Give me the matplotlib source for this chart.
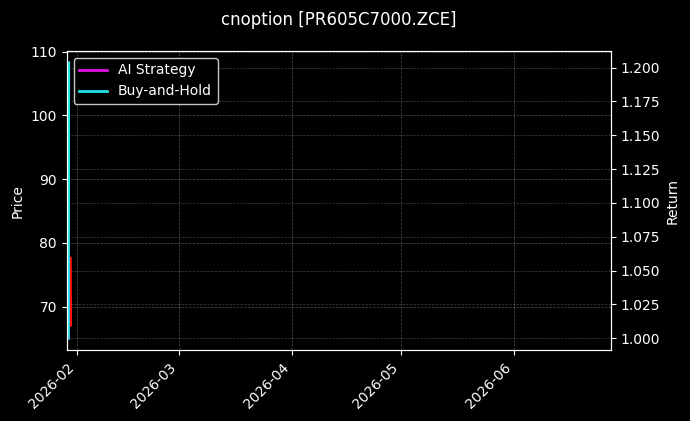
import matplotlib
matplotlib.use("Agg")
import matplotlib.pyplot as plt
import matplotlib.dates as mdates
import pandas as pd

plt.style.use("dark_background")

# data
price_times = pd.to_datetime(["2026-01-30 04:00", "2026-01-30 05:00", "2026-01-30 06:00"])
price_values = [77.6, 72.0, 67.1]

ret_times = pd.to_datetime(["2026-01-29 15:00", "2026-01-29 16:00", "2026-01-29 17:00"])
ai_strategy = [1.000, 1.100, 1.2035]
buy_and_hold = [1.000, 1.100, 1.2035]

x_start = pd.Timestamp("2026-01-29 04:00")
x_end = pd.Timestamp("2026-06-27 14:00")

fig = plt.figure(figsize=(6.9, 4.21), dpi=100)
ax = fig.add_axes([0.0967, 0.1675, 0.7888, 0.7114])
ax.set_facecolor("black")
fig.patch.set_facecolor("black")

ax.plot(price_times, price_values, color="#ff1010", linewidth=2)
ax.set_ylabel("Price")
ax.set_ylim(63.13, 110.1)
ax.grid(True, linestyle="--", linewidth=0.5, alpha=0.3)

ax2 = ax.twinx()
ax2.plot(ret_times, ai_strategy, color="#e010e0", linewidth=2, label="AI Strategy")
ax2.plot(ret_times, buy_and_hold, color="#20e6e6", linewidth=2, label="Buy-and-Hold")
ax2.set_ylabel("Return")
ax2.set_ylim(0.991, 1.2123)
ax2.grid(True, linestyle="--", linewidth=0.5, alpha=0.25)

ax.set_xlim(x_start, x_end)
ax.xaxis.set_major_locator(mdates.MonthLocator())
ax.xaxis.set_major_formatter(mdates.DateFormatter("%Y-%m"))
for lbl in ax.get_xticklabels():
    lbl.set_rotation(45)
    lbl.set_ha("right")

leg = ax2.legend(loc="upper left", facecolor="black", edgecolor="#dddddd", framealpha=0.9)

ax.set_title("cnoption [PR605C7000.ZCE]", fontsize=12, pad=19)

fig.savefig("out.png", dpi=100, facecolor="black")
